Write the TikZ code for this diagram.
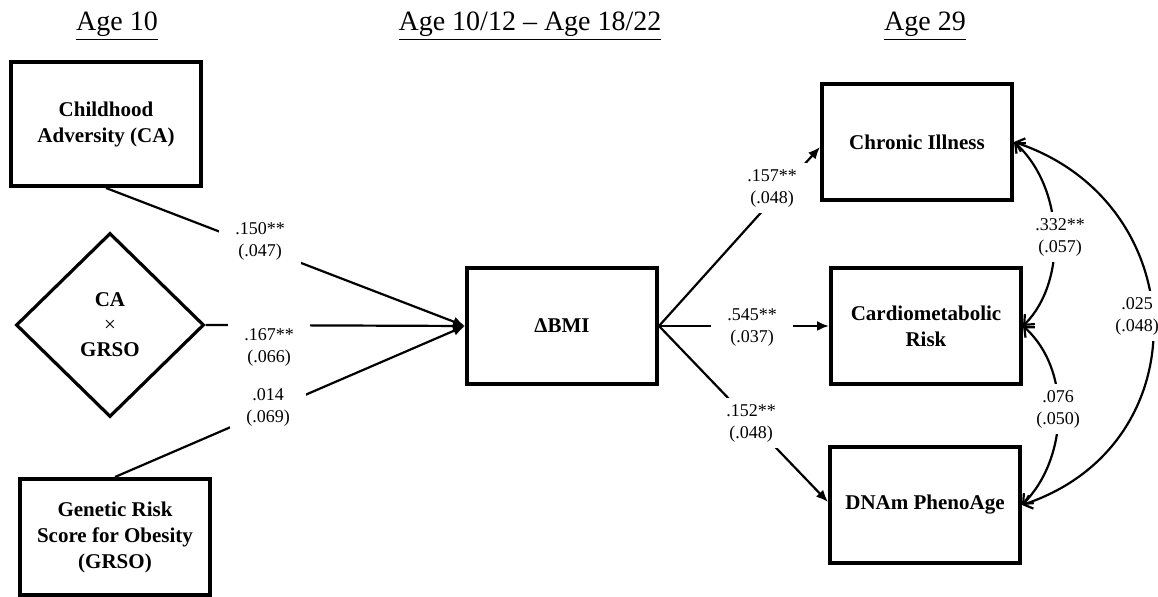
\documentclass[tikz,border=0pt]{standalone}
\usepackage{fontspec}
\setmainfont{Liberation Serif}
\usetikzlibrary{arrows.meta, positioning, shapes.geometric}

\begin{document}
\begin{tikzpicture}[
    x=0.5pt, y=-0.5pt,
    box/.style={rectangle, draw, line width=2pt, minimum width=95pt,
                minimum height=58pt, align=center, inner sep=2pt,
                font=\fontsize{10.5}{13}\selectfont\bfseries},
    inter/.style={diamond, draw, line width=1.6pt, minimum width=94pt,
                  minimum height=92pt, inner sep=0pt, align=center,
                  font=\fontsize{10.5}{12.5}\selectfont\bfseries},
    coef/.style={fill=white, align=center, inner xsep=8pt, inner ysep=3pt,
                 font=\fontsize{9}{11}\selectfont},
    heading/.style={font=\fontsize{14}{16}\selectfont, anchor=base},
    arrow/.style={-{Latex[length=6pt, width=5pt]}, line width=1.1pt},
    cov/.style={{Straight Barb[length=4pt, width=7pt]}-{Straight Barb[length=4pt, width=7pt]},
                line width=1.1pt}
]
\useasboundingbox (0,0) rectangle (1158,597);

%% Headings
\node[heading] (h1) at (117,31) {\underline{Age 10}};
\node[heading] (h2) at (530,31) {\underline{Age 10/12 -- Age 18/22}};
\node[heading] (h3) at (925,31) {\underline{Age 29}};

%% Age 10 predictors
\node[box, minimum height=62pt] (ca) at (106,124) {Childhood\\Adversity (CA)};
\node[inter] (caxg) at (110,325) {CA\\{\mdseries ×}\\GRSO};
\node[box] (grso) at (115,537) {Genetic Risk\\Score for Obesity\\(GRSO)};

%% Mediator
\node[box] (bmi) at (562,326) {ΔBMI};

%% Age 29 outcomes
\node[box] (chronic) at (917,142) {Chronic Illness};
\node[box] (cardio) at (926,326) {Cardiometabolic\\Risk};
\node[box] (dnam) at (925,505) {DNAm PhenoAge};

%% Paths: predictors -> BMI
\draw[arrow] (ca.south) -- (bmi.west);
\draw[arrow] (caxg.east) -- (bmi.west);
\draw[arrow] (grso.north) -- (bmi.west);

\node[coef] (b1) at (260,241) {.150**\\(.047)};
\node[coef] (b2) at (269,347) {.167**\\(.066)};
\node[coef] (b3) at (268,407) {.014\\(.069)};

%% Paths: BMI -> outcomes
\draw[arrow] (bmi.east) -- ([yshift=-2.5pt]chronic.west);
\draw[arrow] (bmi.east) -- (cardio.west);
\draw[arrow] (bmi.east) -- ([yshift=1.5pt]dnam.west);

\node[coef] (b4) at (772,188) {.157**\\(.048)};
\node[coef] (b5) at (752,328) {.545**\\(.037)};
\node[coef] (b6) at (751,423) {.152**\\(.048)};

%% Residual covariances
\draw[cov] (chronic.east) .. controls +(50,45) and +(45,-45) .. (cardio.east);
\draw[cov] (cardio.east) .. controls +(50,45) and +(45,-45) .. (dnam.east);
\draw[cov] (chronic.east) .. controls +(180,60) and +(180,-60) .. (dnam.east);

\node[coef, inner xsep=3pt] (r1) at (1060,237) {.332**\\(.057)};
\node[coef, inner xsep=3pt] (r2) at (1058,409) {.076\\(.050)};
\node[coef, inner xsep=3pt] (r3) at (1137,316) {.025\\(.048)};

\end{tikzpicture}
\end{document}
